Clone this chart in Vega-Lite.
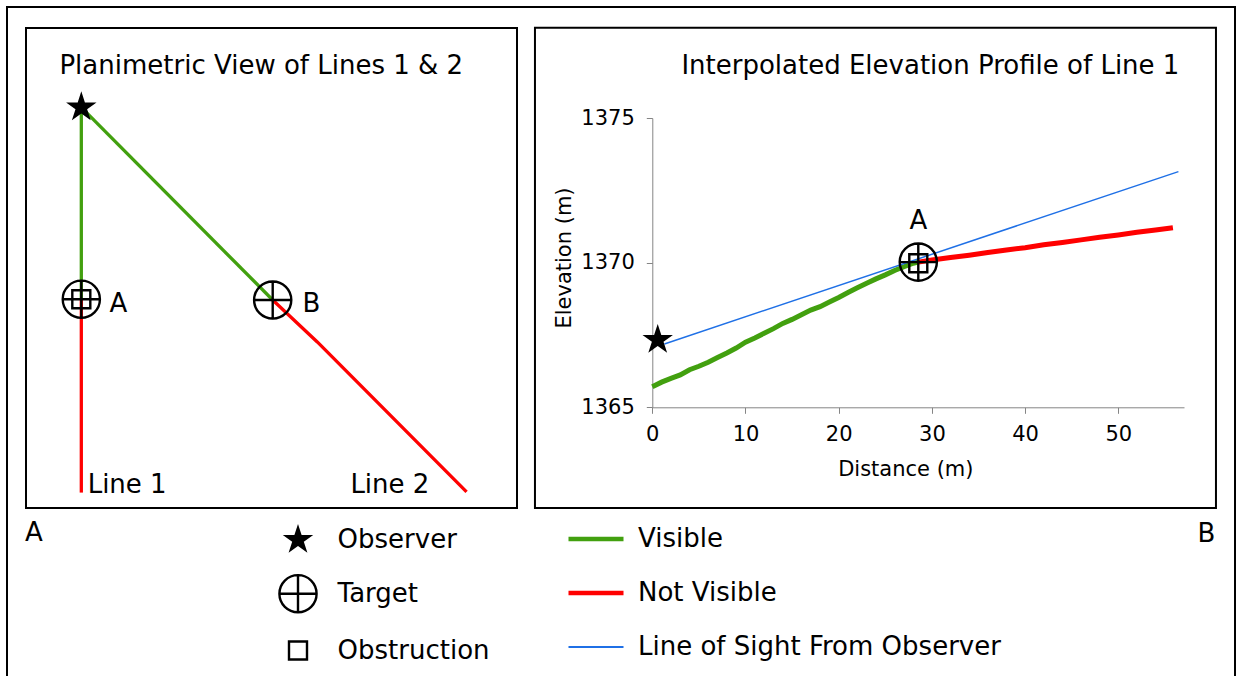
{
  "$schema": "https://vega.github.io/schema/vega-lite/v6.json",
  "width": 1228,
  "height": 670,
  "autosize": {"type": "none"},
  "padding": {"left": 7, "top": 7, "right": 4, "bottom": -1},
  "background": "white",
  "config": {
    "font": "DejaVu Sans",
    "view": {"stroke": "black", "strokeWidth": 2},
    "axis": {"grid": false}
  },
  "datasets": {
    "planPanel": [{"east": -8.04, "east2": 63.33, "north": -58.24, "north2": 11.53}],
    "planLines": [
      {"line": "Line 1", "status": "Visible", "east": 0, "north": 0},
      {"line": "Line 1", "status": "Visible", "east": 0, "north": -27.9},
      {"line": "Line 1", "status": "Not Visible", "east": 0, "north": -27.9},
      {"line": "Line 1", "status": "Not Visible", "east": 0, "north": -56.0},
      {"line": "Line 2", "status": "Visible", "east": 0, "north": 0},
      {"line": "Line 2", "status": "Visible", "east": 27.82, "north": -28.01},
      {"line": "Line 2", "status": "Not Visible", "east": 27.82, "north": -28.01},
      {"line": "Line 2", "status": "Not Visible", "east": 34.3, "north": -34.1},
      {"line": "Line 2", "status": "Not Visible", "east": 56.0, "north": -55.9}
    ],
    "planPoints": [
      {"feature": "Observer", "east": 0, "north": 0},
      {"feature": "Target", "east": 0, "north": -27.9},
      {"feature": "Obstruction", "east": 0, "north": -27.9},
      {"feature": "Target", "east": 27.82, "north": -28.01}
    ],
    "planLabels": [
      {"east": -3.18, "north": 4.84, "label": "Planimetric View of Lines 1 & 2"},
      {"east": 4.1, "north": -29.7, "label": "A"},
      {"east": 32.14, "north": -29.7, "label": "B"},
      {"east": 0.92, "north": -56.0, "label": "Line 1"},
      {"east": 39.11, "north": -56.0, "label": "Line 2"},
      {"east": -8.2, "north": -63.1, "label": "A"}
    ],
    "profilePanel": [{"d": -12.59, "d2": 60.48, "elev": 1361.52, "elev2": 1378.12}],
    "profileTerrain": [
      {"status": "Visible", "d": 0, "elev": 1365.71},
      {"status": "Visible", "d": 1, "elev": 1365.87},
      {"status": "Visible", "d": 2, "elev": 1366.0},
      {"status": "Visible", "d": 3, "elev": 1366.12},
      {"status": "Visible", "d": 4, "elev": 1366.3},
      {"status": "Visible", "d": 5, "elev": 1366.42},
      {"status": "Visible", "d": 6, "elev": 1366.56},
      {"status": "Visible", "d": 7, "elev": 1366.72},
      {"status": "Visible", "d": 8, "elev": 1366.88},
      {"status": "Visible", "d": 9, "elev": 1367.05},
      {"status": "Visible", "d": 10, "elev": 1367.25},
      {"status": "Visible", "d": 11, "elev": 1367.4},
      {"status": "Visible", "d": 12, "elev": 1367.56},
      {"status": "Visible", "d": 13, "elev": 1367.72},
      {"status": "Visible", "d": 14, "elev": 1367.9},
      {"status": "Visible", "d": 15, "elev": 1368.04},
      {"status": "Visible", "d": 16, "elev": 1368.2},
      {"status": "Visible", "d": 17, "elev": 1368.36},
      {"status": "Visible", "d": 18, "elev": 1368.48},
      {"status": "Visible", "d": 19, "elev": 1368.64},
      {"status": "Visible", "d": 20, "elev": 1368.8},
      {"status": "Visible", "d": 21, "elev": 1368.97},
      {"status": "Visible", "d": 22, "elev": 1369.13},
      {"status": "Visible", "d": 23, "elev": 1369.29},
      {"status": "Visible", "d": 24, "elev": 1369.44},
      {"status": "Visible", "d": 25, "elev": 1369.58},
      {"status": "Visible", "d": 26, "elev": 1369.73},
      {"status": "Visible", "d": 27, "elev": 1369.86},
      {"status": "Visible", "d": 28, "elev": 1369.98},
      {"status": "Visible", "d": 28.54, "elev": 1370.02},
      {"status": "Not Visible", "d": 28.54, "elev": 1370.02},
      {"status": "Not Visible", "d": 30, "elev": 1370.09},
      {"status": "Not Visible", "d": 32, "elev": 1370.18},
      {"status": "Not Visible", "d": 34, "elev": 1370.26},
      {"status": "Not Visible", "d": 36, "elev": 1370.35},
      {"status": "Not Visible", "d": 38, "elev": 1370.44},
      {"status": "Not Visible", "d": 40, "elev": 1370.52},
      {"status": "Not Visible", "d": 42, "elev": 1370.62},
      {"status": "Not Visible", "d": 44, "elev": 1370.7},
      {"status": "Not Visible", "d": 46, "elev": 1370.79},
      {"status": "Not Visible", "d": 48, "elev": 1370.88},
      {"status": "Not Visible", "d": 50, "elev": 1370.96},
      {"status": "Not Visible", "d": 52, "elev": 1371.05},
      {"status": "Not Visible", "d": 54, "elev": 1371.13},
      {"status": "Not Visible", "d": 55.86, "elev": 1371.21}
    ],
    "profileSight": [
      {"status": "Line of Sight From Observer", "d": 1.3, "elev": 1367.19},
      {"status": "Line of Sight From Observer", "d": 56.45, "elev": 1373.15}
    ],
    "profilePoints": [
      {"feature": "Observer", "d": 0.58, "elev": 1367.33},
      {"feature": "Target", "d": 28.54, "elev": 1370.02},
      {"feature": "Obstruction", "d": 28.54, "elev": 1369.98}
    ],
    "profileLabels": [
      {"d": 3.12, "elev": 1376.52, "label": "Interpolated Elevation Profile of Line 1"},
      {"d": 27.59, "elev": 1371.155, "label": "A"},
      {"d": 58.5, "elev": 1360.35, "label": "B"}
    ]
  },
  "layer": [
    {
      "layer": [
        {
          "data": {"name": "planPanel"},
          "mark": {"type": "rect", "filled": false, "color": "black", "strokeWidth": 2},
          "encoding": {
            "x": {"field": "east", "type": "quantitative", "scale": {"domain": [-8.04, 63.33], "range": [19, 510], "nice": false, "zero": false}, "axis": null},
            "x2": {"field": "east2"},
            "y": {"field": "north", "type": "quantitative", "scale": {"domain": [-58.24, 11.53], "range": [501, 21], "nice": false, "zero": false}, "axis": null},
            "y2": {"field": "north2"}
          }
        },
        {
          "data": {"name": "planLines"},
          "mark": {"type": "line", "strokeWidth": 3.3},
          "encoding": {
            "x": {"field": "east", "type": "quantitative", "scale": {"domain": [-8.04, 63.33], "range": [19, 510], "nice": false, "zero": false}, "axis": null},
            "y": {"field": "north", "type": "quantitative", "scale": {"domain": [-58.24, 11.53], "range": [501, 21], "nice": false, "zero": false}, "axis": null},
            "detail": {"field": "line", "type": "nominal"},
            "color": {
              "field": "status", "type": "nominal",
              "scale": {"domain": ["Visible", "Not Visible", "Line of Sight From Observer"], "range": ["#42a00f", "#ff0000", "#1f70e6"]},
              "legend": {
                "title": null, "orient": "none", "legendX": 576, "legendY": 518.9, "direction": "vertical",
                "symbolType": "stroke", "symbolSize": 3025, "symbolStrokeWidth": 4.5,
                "labelFont": "DejaVu Sans", "labelFontSize": 26, "labelColor": "black", "labelOffset": 29, "labelLimit": 600,
                "rowPadding": 28, "padding": 0,
                "encode": {"symbols": {"update": {"strokeWidth": {"signal": "datum.value === 'Line of Sight From Observer' ? 2 : 4.5"}, "opacity": {"value": 1}}}}
              }
            }
          }
        },
        {
          "data": {"name": "planPoints"},
          "mark": {"type": "point", "size": 1600, "opacity": 1, "strokeWidth": 2.4},
          "encoding": {
            "x": {"field": "east", "type": "quantitative", "scale": {"domain": [-8.04, 63.33], "range": [19, 510], "nice": false, "zero": false}, "axis": null},
            "y": {"field": "north", "type": "quantitative", "scale": {"domain": [-58.24, 11.53], "range": [501, 21], "nice": false, "zero": false}, "axis": null},
            "shape": {
              "field": "feature", "type": "nominal",
              "scale": {
                "domain": ["Observer", "Target", "Obstruction"],
                "range": [
                  "M0,-0.8L0.18,-0.247L0.761,-0.247L0.291,0.094L0.47,0.647L0,0.306L-0.47,0.647L-0.291,0.094L-0.761,-0.247L-0.18,-0.247Z",
                  "M-0.93,0A0.93,0.93 0 1,1 0.93,0A0.93,0.93 0 1,1 -0.93,0ZM-0.93,0L0.93,0M0,-0.93L0,0.93",
                  "M-0.45,-0.45L0.45,-0.45L0.45,0.45L-0.45,0.45Z"
                ]
              },
              "legend": {
                "title": null, "orient": "none", "legendX": 269.5, "legendY": 511.4, "direction": "vertical",
                "symbolSize": 1600, "symbolStrokeWidth": 2.4,
                "labelFont": "DejaVu Sans", "labelFontSize": 26, "labelColor": "black", "labelOffset": 18.1, "labelLimit": 600,
                "rowPadding": 11.8, "padding": 0
              }
            },
            "fill": {
              "field": "feature", "type": "nominal",
              "scale": {"domain": ["Observer", "Target", "Obstruction"], "range": ["black", "transparent", "transparent"]},
              "legend": {
                "title": null, "orient": "none", "legendX": 269.5, "legendY": 511.4, "direction": "vertical",
                "symbolSize": 1600, "symbolStrokeWidth": 2.4,
                "labelFont": "DejaVu Sans", "labelFontSize": 26, "labelColor": "black", "labelOffset": 18.1, "labelLimit": 600,
                "rowPadding": 11.8, "padding": 0
              }
            },
            "stroke": {
              "field": "feature", "type": "nominal",
              "scale": {"domain": ["Observer", "Target", "Obstruction"], "range": ["transparent", "black", "black"]},
              "legend": {
                "title": null, "orient": "none", "legendX": 269.5, "legendY": 511.4, "direction": "vertical",
                "symbolSize": 1600, "symbolStrokeWidth": 2.4,
                "labelFont": "DejaVu Sans", "labelFontSize": 26, "labelColor": "black", "labelOffset": 18.1, "labelLimit": 600,
                "rowPadding": 11.8, "padding": 0
              }
            }
          }
        },
        {
          "data": {"name": "planLabels"},
          "mark": {"type": "text", "align": "left", "baseline": "alphabetic", "fontSize": 26, "font": "DejaVu Sans", "color": "black"},
          "encoding": {
            "x": {"field": "east", "type": "quantitative", "scale": {"domain": [-8.04, 63.33], "range": [19, 510], "nice": false, "zero": false}, "axis": null},
            "y": {"field": "north", "type": "quantitative", "scale": {"domain": [-58.24, 11.53], "range": [501, 21], "nice": false, "zero": false}, "axis": null},
            "text": {"field": "label"}
          }
        }
      ]
    },
    {
      "layer": [
        {
          "data": {"name": "profilePanel"},
          "mark": {"type": "rect", "filled": false, "color": "black", "strokeWidth": 2},
          "encoding": {
            "x": {"field": "d", "type": "quantitative", "scale": {"domain": [0, 57.05], "range": [645.3, 1177], "nice": false, "zero": false},
              "axis": {"orient": "bottom", "offset": -269.7, "values": [0, 10, 20, 30, 40, 50], "format": "d",
                "title": "Distance (m)", "titleX": 898.3, "titleY": 67.7, "titleAlign": "center", "titleBaseline": "alphabetic",
                "titleFont": "DejaVu Sans", "titleFontSize": 21, "titleFontWeight": "normal", "titleColor": "black",
                "labelFont": "DejaVu Sans", "labelFontSize": 21, "labelColor": "black", "labelPadding": 10.4, "labelFlush": false, "labelOverlap": false,
                "tickSize": 6, "tickColor": "#858585", "tickWidth": 1, "domainColor": "#858585", "domainWidth": 1, "grid": false}},
            "x2": {"field": "d2"},
            "y": {"field": "elev", "type": "quantitative", "scale": {"domain": [1365, 1375], "range": [400.3, 111.1], "nice": false, "zero": false},
              "axis": {"orient": "left", "offset": -645.3, "values": [1365, 1370, 1375], "format": "d",
                "title": "Elevation (m)", "titleX": -82.3, "titleY": 250.5, "titleAngle": 270, "titleAlign": "center", "titleBaseline": "alphabetic",
                "titleFont": "DejaVu Sans", "titleFontSize": 21, "titleFontWeight": "normal", "titleColor": "black",
                "labelFont": "DejaVu Sans", "labelFontSize": 21, "labelColor": "black", "labelPadding": 12, "labelOverlap": false,
                "tickSize": 6, "tickColor": "#858585", "tickWidth": 1, "domainColor": "#858585", "domainWidth": 1, "grid": false}},
            "y2": {"field": "elev2"}
          }
        },
        {
          "data": {"name": "profileTerrain"},
          "mark": {"type": "line", "strokeWidth": 5},
          "encoding": {
            "x": {"field": "d", "type": "quantitative", "scale": {"domain": [0, 57.05], "range": [645.3, 1177], "nice": false, "zero": false}},
            "y": {"field": "elev", "type": "quantitative", "scale": {"domain": [1365, 1375], "range": [400.3, 111.1], "nice": false, "zero": false}},
            "color": {
              "field": "status", "type": "nominal",
              "scale": {"domain": ["Visible", "Not Visible", "Line of Sight From Observer"], "range": ["#42a00f", "#ff0000", "#1f70e6"]},
              "legend": {
                "title": null, "orient": "none", "legendX": 576, "legendY": 518.9, "direction": "vertical",
                "symbolType": "stroke", "symbolSize": 3025, "symbolStrokeWidth": 4.5,
                "labelFont": "DejaVu Sans", "labelFontSize": 26, "labelColor": "black", "labelOffset": 29, "labelLimit": 600,
                "rowPadding": 28, "padding": 0,
                "encode": {"symbols": {"update": {"strokeWidth": {"signal": "datum.value === 'Line of Sight From Observer' ? 2 : 4.5"}, "opacity": {"value": 1}}}}
              }
            }
          }
        },
        {
          "data": {"name": "profileSight"},
          "mark": {"type": "line", "strokeWidth": 1.5},
          "encoding": {
            "x": {"field": "d", "type": "quantitative", "scale": {"domain": [0, 57.05], "range": [645.3, 1177], "nice": false, "zero": false}},
            "y": {"field": "elev", "type": "quantitative", "scale": {"domain": [1365, 1375], "range": [400.3, 111.1], "nice": false, "zero": false}},
            "color": {
              "field": "status", "type": "nominal",
              "scale": {"domain": ["Visible", "Not Visible", "Line of Sight From Observer"], "range": ["#42a00f", "#ff0000", "#1f70e6"]},
              "legend": {
                "title": null, "orient": "none", "legendX": 576, "legendY": 518.9, "direction": "vertical",
                "symbolType": "stroke", "symbolSize": 3025, "symbolStrokeWidth": 4.5,
                "labelFont": "DejaVu Sans", "labelFontSize": 26, "labelColor": "black", "labelOffset": 29, "labelLimit": 600,
                "rowPadding": 28, "padding": 0,
                "encode": {"symbols": {"update": {"strokeWidth": {"signal": "datum.value === 'Line of Sight From Observer' ? 2 : 4.5"}, "opacity": {"value": 1}}}}
              }
            }
          }
        },
        {
          "data": {"name": "profilePoints"},
          "mark": {"type": "point", "size": 1600, "opacity": 1, "strokeWidth": 2.4},
          "encoding": {
            "x": {"field": "d", "type": "quantitative", "scale": {"domain": [0, 57.05], "range": [645.3, 1177], "nice": false, "zero": false}},
            "y": {"field": "elev", "type": "quantitative", "scale": {"domain": [1365, 1375], "range": [400.3, 111.1], "nice": false, "zero": false}},
            "shape": {
              "field": "feature", "type": "nominal",
              "scale": {
                "domain": ["Observer", "Target", "Obstruction"],
                "range": [
                  "M0,-0.8L0.18,-0.247L0.761,-0.247L0.291,0.094L0.47,0.647L0,0.306L-0.47,0.647L-0.291,0.094L-0.761,-0.247L-0.18,-0.247Z",
                  "M-0.93,0A0.93,0.93 0 1,1 0.93,0A0.93,0.93 0 1,1 -0.93,0ZM-0.93,0L0.93,0M0,-0.93L0,0.93",
                  "M-0.45,-0.45L0.45,-0.45L0.45,0.45L-0.45,0.45Z"
                ]
              },
              "legend": {
                "title": null, "orient": "none", "legendX": 269.5, "legendY": 511.4, "direction": "vertical",
                "symbolSize": 1600, "symbolStrokeWidth": 2.4,
                "labelFont": "DejaVu Sans", "labelFontSize": 26, "labelColor": "black", "labelOffset": 18.1, "labelLimit": 600,
                "rowPadding": 11.8, "padding": 0
              }
            },
            "fill": {
              "field": "feature", "type": "nominal",
              "scale": {"domain": ["Observer", "Target", "Obstruction"], "range": ["black", "transparent", "transparent"]},
              "legend": {
                "title": null, "orient": "none", "legendX": 269.5, "legendY": 511.4, "direction": "vertical",
                "symbolSize": 1600, "symbolStrokeWidth": 2.4,
                "labelFont": "DejaVu Sans", "labelFontSize": 26, "labelColor": "black", "labelOffset": 18.1, "labelLimit": 600,
                "rowPadding": 11.8, "padding": 0
              }
            },
            "stroke": {
              "field": "feature", "type": "nominal",
              "scale": {"domain": ["Observer", "Target", "Obstruction"], "range": ["transparent", "black", "black"]},
              "legend": {
                "title": null, "orient": "none", "legendX": 269.5, "legendY": 511.4, "direction": "vertical",
                "symbolSize": 1600, "symbolStrokeWidth": 2.4,
                "labelFont": "DejaVu Sans", "labelFontSize": 26, "labelColor": "black", "labelOffset": 18.1, "labelLimit": 600,
                "rowPadding": 11.8, "padding": 0
              }
            }
          }
        },
        {
          "data": {"name": "profileLabels"},
          "mark": {"type": "text", "align": "left", "baseline": "alphabetic", "fontSize": 26, "font": "DejaVu Sans", "color": "black"},
          "encoding": {
            "x": {"field": "d", "type": "quantitative", "scale": {"domain": [0, 57.05], "range": [645.3, 1177], "nice": false, "zero": false}},
            "y": {"field": "elev", "type": "quantitative", "scale": {"domain": [1365, 1375], "range": [400.3, 111.1], "nice": false, "zero": false}},
            "text": {"field": "label"}
          }
        }
      ]
    }
  ],
  "resolve": {"scale": {"x": "independent", "y": "independent"}}
}
